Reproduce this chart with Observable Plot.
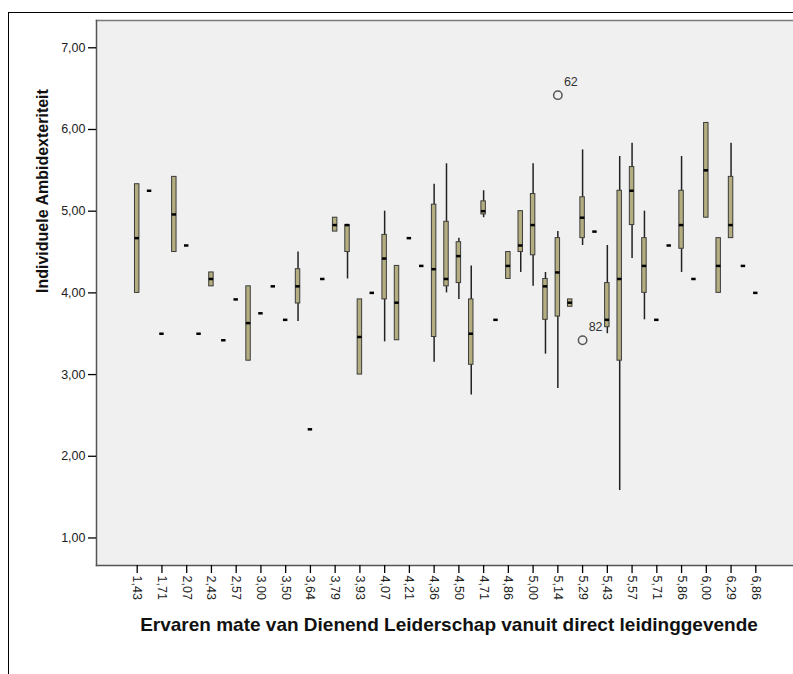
<!DOCTYPE html>
<html>
<head>
<meta charset="utf-8">
<script src="https://cdn.jsdelivr.net/npm/d3@7"></script>
<script src="https://cdn.jsdelivr.net/npm/@observablehq/plot@0.6"></script>
<style>
  html, body { margin: 0; padding: 0; background: #fff; overflow: hidden; }
  #wrap { position: relative; width: 793px; height: 674px; overflow: hidden; }
  #border { position: absolute; left: 8px; top: 12px; right: -10px; bottom: -10px;
            border-left: 1.5px solid #000; border-top: 1.5px solid #000; pointer-events: none; }
  #chart { position: absolute; left: 0; top: 0; }
</style>
</head>
<body>
<div id="wrap"><div id="chart"></div><div id="border"></div></div>
<script>
// Perceived servant leadership (group means); only every other group is labelled on the axis
const categories = [
  "1,43","1,57","1,71","2,00","2,07","2,29","2,43","2,50","2,57","2,86",
  "3,00","3,29","3,50","3,57","3,64","3,71","3,79","3,86","3,93","4,00",
  "4,07","4,14","4,21","4,29","4,36","4,43","4,50","4,57","4,71","4,79",
  "4,86","4,93","5,00","5,07","5,14","5,21","5,29","5,36","5,43","5,50",
  "5,57","5,64","5,71","5,79","5,86","5,93","6,00","6,14","6,29","6,43","6,86"
];

// Box-plot statistics of "Individuele Ambidexteriteit" per group
const whiskerLow = [
  4.00,5.25,3.50,4.50,4.58,3.50,4.08,3.42,3.92,3.17,
  3.75,4.08,3.67,3.65,2.33,4.17,4.75,4.17,3.00,4.00,
  3.40,3.42,4.67,4.33,3.15,4.00,3.92,2.75,4.92,3.67,
  4.17,4.25,4.08,3.25,2.83,3.83,4.58,4.75,3.50,1.58,
  4.42,3.67,3.67,4.58,4.25,4.17,4.92,4.00,4.67,4.33,4.00
];
const boxLow = [
  4.00,5.25,3.50,4.50,4.58,3.50,4.08,3.42,3.92,3.17,
  3.75,4.08,3.67,3.87,2.33,4.17,4.75,4.50,3.00,4.00,
  3.92,3.42,4.67,4.33,3.46,4.08,4.12,3.12,4.96,3.67,
  4.17,4.50,4.46,3.67,3.71,3.83,4.67,4.75,3.58,3.17,
  4.83,4.00,3.67,4.58,4.54,4.17,4.92,4.00,4.67,4.33,4.00
];
const median = [
  4.67,5.25,3.50,4.96,4.58,3.50,4.17,3.42,3.92,3.63,
  3.75,4.08,3.67,4.08,2.33,4.17,4.83,4.83,3.46,4.00,
  4.42,3.88,4.67,4.33,4.29,4.17,4.45,3.50,5.00,3.67,
  4.33,4.58,4.83,4.08,4.25,3.88,4.92,4.75,3.67,4.17,
  5.25,4.33,3.67,4.58,4.83,4.17,5.50,4.33,4.83,4.33,4.00
];
const boxHigh = [
  5.33,5.25,3.50,5.42,4.58,3.50,4.25,3.42,3.92,4.08,
  3.75,4.08,3.67,4.29,2.33,4.17,4.92,4.83,3.92,4.00,
  4.71,4.33,4.67,4.33,5.08,4.87,4.62,3.92,5.12,3.67,
  4.50,5.00,5.21,4.17,4.67,3.92,5.17,4.75,4.12,5.25,
  5.54,4.67,3.67,4.58,5.25,4.17,6.08,4.67,5.42,4.33,4.00
];
const whiskerHigh = [
  5.33,5.25,3.50,5.42,4.58,3.50,4.25,3.42,3.92,4.08,
  3.75,4.08,3.67,4.50,2.33,4.17,4.92,4.83,3.92,4.00,
  5.00,4.33,4.67,4.33,5.33,5.58,4.67,4.33,5.25,3.67,
  4.50,5.00,5.58,4.25,4.75,3.92,5.75,4.75,4.58,5.67,
  5.83,5.00,3.67,4.58,5.67,4.17,6.08,4.67,5.83,4.33,4.00
];

// Outlying cases, labelled with their case number
const outlierGroup = ["5,14", "5,29"];
const outlierValue = [6.42, 3.42];
const outlierCase = ["62", "82"];

const yTicks = [1, 2, 3, 4, 5, 6, 7];
const labelledGroups = categories.filter((d, i) => i % 2 === 0);

const rows = categories.map((c, i) => ({
  group: c, lo: whiskerLow[i], q1: boxLow[i], med: median[i], q3: boxHigh[i], hi: whiskerHigh[i]
}));
const outliers = outlierGroup.map((g, i) => ({group: g, value: outlierValue[i], id: outlierCase[i]}));

const font = "'Liberation Sans', Arial, sans-serif";

// The category band runs a little past the right edge, where the chart area is cropped (no right border)
const chart = Plot.plot({
  width: 793,
  height: 674,
  marginTop: 20,
  marginLeft: 96,
  marginRight: 0,
  marginBottom: 109,
  style: {fontFamily: font, background: "transparent"},
  x: {type: "band", domain: categories, range: [96, 796], paddingInner: 0.64, paddingOuter: 3.11,
      align: 0.5, round: false},
  y: {domain: [0.663, 7.334]},
  marks: [
    Plot.frame({fill: "#f0f0f0", stroke: null}),
    Plot.frame({anchor: "top", stroke: "#7a7a7a", strokeWidth: 1.5}),
    Plot.frame({anchor: "left", stroke: "#555", strokeWidth: 1.5}),
    Plot.frame({anchor: "bottom", stroke: "#555", strokeWidth: 1.5}),
    Plot.axisY({ticks: yTicks, tickSize: 8, tickPadding: 3, fontSize: 12.5, fill: "#222",
                tickFormat: d => d.toFixed(2).replace(".", ","), label: null, strokeWidth: 1.3}),
    Plot.axisX({ticks: labelledGroups, tickSize: 8, tickPadding: 2, tickRotate: 90, fontSize: 12.5,
                fill: "#222", label: null, strokeWidth: 1.3}),
    Plot.ruleX(rows.filter(d => d.hi > d.lo), {x: "group", y1: "lo", y2: "hi", stroke: "#222", strokeWidth: 1.5}),
    Plot.barY(rows.filter(d => d.q3 > d.q1), {x: "group", y1: "q1", y2: "q3", fill: "#b4ad80", stroke: "#3c3c3c", strokeWidth: 1}),
    Plot.tickY(rows, {x: "group", y: "med", stroke: "#000", strokeWidth: 2.5}),
    Plot.dot(outliers, {x: "group", y: "value", r: 4.2, stroke: "#555", strokeWidth: 1.5, fill: "none"}),
    Plot.text(outliers, {x: "group", y: "value", text: "id", dx: 13, dy: -13, fontSize: 12.5, fill: "#333"}),
    Plot.text(["Individuele Ambidexteriteit"], {frameAnchor: "left", dx: -54, rotate: -90,
                fontSize: 16, fontWeight: "bold", fill: "#111"}),
    Plot.text(["Ervaren mate van Dienend Leiderschap vanuit direct leidinggevende"], {frameAnchor: "bottom", dy: 65,
                fontSize: 19, fontWeight: "bold", fill: "#111", lineAnchor: "bottom", dx: 4})
  ]
});
document.getElementById("chart").appendChild(chart);
</script>
</body>
</html>
